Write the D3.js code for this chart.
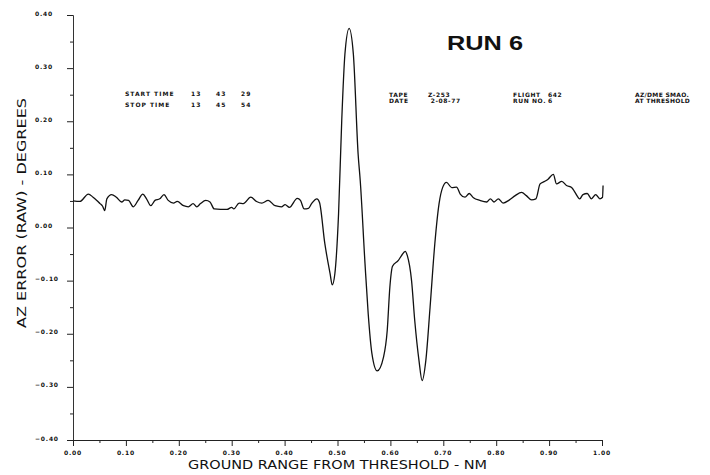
<!DOCTYPE html>
<html>
<head>
<meta charset="utf-8">
<script src="https://cdn.jsdelivr.net/npm/d3@7"></script>
<style>
  html, body { margin: 0; padding: 0; background: #fff; }
  svg { display: block; }
  .small { font-family: "DejaVu Sans", sans-serif; font-weight: bold; font-size: 6px; fill: #111; }
</style>
</head>
<body>
<script>
// ---- data ----
const rangeNm = [0.000,0.013,0.029,0.038,0.045,0.051,0.056,0.060,0.064,0.073,0.082,0.092,0.098,0.105,0.114,0.123,0.132,0.139,0.147,0.155,0.164,0.172,0.180,0.190,0.197,0.209,0.218,0.227,0.234,0.241,0.251,0.259,0.267,0.291,0.300,0.304,0.314,0.322,0.336,0.347,0.357,0.369,0.382,0.394,0.401,0.409,0.424,0.430,0.437,0.445,0.451,0.461,0.466,0.476,0.486,0.490,0.495,0.502,0.508,0.514,0.522,0.530,0.539,0.543,0.552,0.558,0.565,0.575,0.587,0.594,0.599,0.604,0.615,0.621,0.628,0.632,0.640,0.646,0.654,0.660,0.667,0.675,0.684,0.692,0.699,0.706,0.716,0.725,0.732,0.741,0.749,0.757,0.769,0.782,0.789,0.796,0.804,0.813,0.825,0.836,0.848,0.857,0.867,0.875,0.883,0.892,0.898,0.908,0.914,0.924,0.933,0.943,0.949,0.958,0.964,0.972,0.980,0.988,0.996,1.001,1.002];
const azError = [0.050,0.049,0.063,0.057,0.051,0.045,0.040,0.032,0.054,0.062,0.057,0.048,0.052,0.051,0.039,0.051,0.063,0.054,0.041,0.051,0.054,0.062,0.051,0.046,0.049,0.041,0.039,0.045,0.039,0.045,0.051,0.048,0.035,0.034,0.038,0.035,0.046,0.045,0.057,0.049,0.046,0.051,0.041,0.039,0.043,0.038,0.055,0.051,0.035,0.036,0.045,0.054,0.047,-0.030,-0.087,-0.108,-0.087,0.026,0.201,0.326,0.375,0.326,0.138,0.088,-0.068,-0.162,-0.237,-0.270,-0.244,-0.194,-0.112,-0.073,-0.062,-0.053,-0.045,-0.053,-0.100,-0.175,-0.250,-0.288,-0.250,-0.150,-0.030,0.045,0.076,0.085,0.075,0.076,0.063,0.057,0.064,0.056,0.051,0.048,0.054,0.048,0.054,0.046,0.052,0.060,0.066,0.060,0.052,0.054,0.082,0.087,0.091,0.100,0.082,0.087,0.079,0.075,0.066,0.054,0.062,0.064,0.054,0.062,0.054,0.057,0.079];

const xMajorTicks = [0,0.1,0.2,0.3,0.4,0.5,0.6,0.7,0.8,0.9,1.0];
const xMinorTicks = [0.05,0.15,0.25,0.35,0.45,0.55,0.65,0.75,0.85,0.95];
const yMajorTicks = [-0.4,-0.3,-0.2,-0.1,0,0.1,0.2,0.3,0.4];
const yMinorTicks = [-0.35,-0.25,-0.15,-0.05,0.05,0.15,0.25,0.35];

const titleText = "RUN 6";
const xTitle = "GROUND RANGE FROM THRESHOLD - NM";
const yTitle = "AZ ERROR (RAW) - DEGREES";
const infoLeft = [["START TIME", "13", "43", "29"], ["STOP TIME", "13", "45", "54"]];
const infoTape = [["TAPE", "Z-253"], ["DATE", " 2-08-77"]];
const infoFlight = [["FLIGHT", "642"], ["RUN NO.", "6"]];
const infoNote = ["AZ/DME SMAO.", "AT THRESHOLD"];

// ---- drawing ----
const W = 710, H = 475;
const svg = d3.select("body").append("svg").attr("width", W).attr("height", H);

const x = d3.scaleLinear().domain([0, 1]).range([73, 602]);
const y = d3.scaleLinear().domain([-0.4, 0.4]).range([440, 15]);
const fmt = d3.format(".2f");

// Y axis
const gy = svg.append("g").attr("transform", "translate(73,0)");
gy.call(d3.axisLeft(y).tickValues(yMajorTicks).tickSize(6).tickFormat("").tickSizeOuter(0));
gy.append("g").call(d3.axisLeft(y).tickValues(yMinorTicks).tickSize(3).tickFormat("").tickSizeOuter(0));
gy.selectAll("path.domain").attr("stroke", "#333");
gy.selectAll("line").attr("stroke", "#222");

svg.append("g").selectAll("text").data(yMajorTicks).join("text")
  .attr("class", "small")
  .attr("x", 35).attr("y", d => y(d) + 0.5)
  .attr("letter-spacing", "0.8")
  .text(d => fmt(d));

// X axis
const gx = svg.append("g").attr("transform", "translate(0,440)");
gx.call(d3.axisBottom(x).tickValues(xMajorTicks).tickSize(6).tickFormat("").tickSizeOuter(0));
gx.append("g").call(d3.axisBottom(x).tickValues(xMinorTicks).tickSize(3).tickFormat("").tickSizeOuter(0));
gx.selectAll("path.domain").attr("stroke", "#222");
gx.selectAll("line").attr("stroke", "#222");

svg.append("g").selectAll("text").data(xMajorTicks).join("text")
  .attr("class", "small")
  .attr("x", d => x(d)).attr("y", 455)
  .attr("text-anchor", "middle")
  .attr("letter-spacing", "0.8")
  .text(d => fmt(d));

// Axis titles
svg.append("text")
  .attr("x", 188).attr("y", 469)
  .attr("textLength", 299).attr("lengthAdjust", "spacingAndGlyphs")
  .style("font-family", "'DejaVu Sans', sans-serif").style("font-size", "13px").style("fill", "#111")
  .text(xTitle);

svg.append("text")
  .attr("transform", "translate(26,213) rotate(-90)")
  .attr("text-anchor", "middle")
  .attr("textLength", 230).attr("lengthAdjust", "spacingAndGlyphs")
  .style("font-family", "'DejaVu Sans', sans-serif").style("font-size", "12.5px").style("fill", "#111")
  .text(yTitle);

// Title
svg.append("text")
  .attr("x", 447).attr("y", 50)
  .attr("textLength", 76).attr("lengthAdjust", "spacingAndGlyphs")
  .style("font-family", "'Liberation Sans', Arial, sans-serif").style("font-weight", "bold")
  .style("font-size", "21px").style("fill", "#111")
  .text(titleText);

// Info blocks
const leftCols = [125, 191, 216, 241];
infoLeft.forEach((row, i) => {
  row.forEach((t, j) => {
    svg.append("text").attr("class", "small")
      .attr("x", leftCols[j]).attr("y", 96 + i * 11)
      .attr("letter-spacing", "1")
      .text(t);
  });
});
const tapeCols = [389, 428];
infoTape.forEach((row, i) => {
  row.forEach((t, j) => {
    svg.append("text").attr("class", "small")
      .attr("x", tapeCols[j]).attr("y", 97 + i * 6)
      .attr("xml:space", "preserve")
      .attr("letter-spacing", "0.6")
      .text(t);
  });
});
const flightCols = [513, 548];
infoFlight.forEach((row, i) => {
  row.forEach((t, j) => {
    svg.append("text").attr("class", "small")
      .attr("x", flightCols[j]).attr("y", 97 + i * 6)
      .attr("letter-spacing", "0.6")
      .text(t);
  });
});
infoNote.forEach((t, i) => {
  svg.append("text").attr("class", "small")
    .attr("x", 635).attr("y", 97 + i * 6)
    .attr("letter-spacing", "0.3")
    .text(t);
});

// Line
const pts = rangeNm.map((r, i) => [r, azError[i]]);
const line = d3.line().x(d => x(d[0])).y(d => y(d[1])).curve(d3.curveMonotoneX);
svg.append("path")
  .datum(pts)
  .attr("d", line)
  .attr("fill", "none")
  .attr("stroke", "#111")
  .attr("stroke-width", 1.3)
  .attr("stroke-linejoin", "round");
</script>
</body>
</html>
